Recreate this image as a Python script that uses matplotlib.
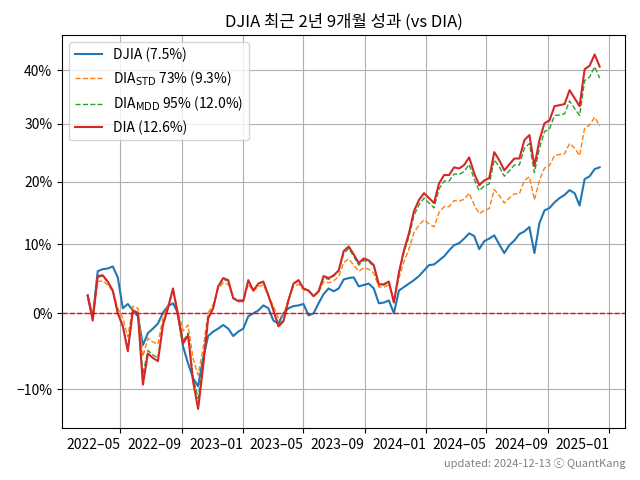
#!/usr/bin/env python3

"""
DJIA vs DIA cumulative performance (log scale)
"""

import numpy as np
import pandas as pd
import matplotlib
matplotlib.use('Agg')
import matplotlib.pyplot as plt
import matplotlib.dates as mdates
from matplotlib.ticker import FixedLocator, FuncFormatter, NullLocator

plt.rcParams['font.family'] = ['Noto Sans CJK KR', 'DejaVu Sans']

# cumulative return (%) sampled about every 10 days
START, END, N = '2022-02-25', '2024-12-13', 103

djia = [2.5, -0.7, 6.0, 6.3, 6.4, 6.7, 5.1, 0.7, 1.3, 0.4,
        -0.4, -4.3, -2.7, -2.1, -1.4, 0.1, 1.0, 1.4, 0.0, -4.5,
        -6.7, -8.6, -9.6, -6.0, -3.1, -2.5, -2.1, -1.6, -2.1, -3.1,
        -2.5, -2.1, -0.4, 0.0, 0.4, 1.1, 0.7, -1.0, -1.4, 0.0,
        0.7, 1.0, 1.1, 1.3, -0.3, 0.0, 1.4, 2.7, 3.5, 3.1,
        3.5, 4.8, 5.0, 5.1, 3.8, 4.0, 4.2, 3.5, 1.4, 1.5,
        1.8, 0.0, 3.2, 3.7, 4.2, 4.7, 5.3, 6.1, 6.9, 7.0,
        7.6, 8.2, 9.1, 9.9, 10.2, 10.9, 11.7, 11.3, 9.3, 10.5,
        10.9, 11.4, 10.0, 8.7, 9.9, 10.6, 11.6, 12.0, 12.7, 8.7,
        13.3, 15.3, 15.7, 16.6, 17.3, 17.8, 18.6, 18.1, 16.1, 20.4,
        20.9, 22.1, 22.4]

dia_std = [2.5, -0.1, 4.5, 4.6, 4.0, 3.1, 0.7, -0.7, -3.2, 1.0,
           0.7, -5.8, -3.4, -3.9, -4.2, -0.6, 1.2, 3.3, 0.3, -2.4,
           -1.6, -6.1, -8.2, -4.7, 0.1, 1.2, 3.5, 4.3, 4.1, 2.2,
           1.9, 1.9, 4.1, 3.1, 3.8, 4.0, 2.5, 1.0, -0.7, -0.2,
           2.0, 3.8, 4.1, 3.3, 3.1, 2.4, 2.9, 4.5, 4.3, 4.6,
           5.2, 7.3, 7.8, 6.9, 6.0, 6.5, 6.3, 5.7, 3.7, 3.7,
           4.0, 1.8, 5.0, 7.4, 9.3, 11.8, 13.0, 13.8, 13.2, 12.7,
           15.0, 15.9, 15.9, 16.9, 16.8, 17.1, 18.1, 16.2, 14.8, 15.3,
           15.6, 18.7, 17.7, 16.5, 17.3, 18.0, 18.0, 20.2, 20.8, 17.0,
           20.2, 22.3, 22.7, 24.4, 24.6, 24.7, 26.5, 25.7, 24.4, 29.2,
           29.8, 31.2, 29.6]

dia_mdd = [2.5, -0.8, 5.1, 5.3, 4.4, 3.2, 0.1, -1.6, -4.8, 0.5,
           0.1, -8.1, -5.0, -5.6, -6.0, -1.4, 0.8, 3.5, -0.3, -3.8,
           -2.7, -8.5, -11.1, -6.6, -0.5, 0.8, 3.7, 4.8, 4.6, 2.1,
           1.7, 1.7, 4.6, 3.2, 4.2, 4.4, 2.5, 0.5, -1.6, -0.9,
           1.9, 4.2, 4.6, 3.5, 3.2, 2.4, 3.1, 5.1, 4.8, 5.3,
           6.0, 8.6, 9.4, 8.2, 6.9, 7.6, 7.4, 6.7, 4.0, 4.0,
           4.4, 1.6, 5.7, 8.8, 11.2, 14.5, 16.2, 17.3, 16.5, 15.7,
           18.8, 20.1, 20.1, 21.3, 21.2, 21.7, 22.9, 20.4, 18.5, 19.3,
           19.6, 23.7, 22.5, 20.9, 21.8, 22.8, 22.8, 25.7, 26.5, 21.5,
           25.7, 28.6, 29.1, 31.5, 31.6, 31.8, 34.2, 32.8, 31.5, 38.0,
           38.7, 40.7, 38.5]

dia = [2.5, -1.0, 5.3, 5.4, 4.5, 3.2, 0.0, -1.8, -5.1, 0.4,
       0.0, -9.4, -5.4, -6.0, -6.4, -1.6, 0.7, 3.5, -0.4, -4.1,
       -3.0, -9.0, -12.4, -7.1, -0.7, 0.7, 3.8, 5.0, 4.7, 2.1,
       1.7, 1.7, 4.7, 3.2, 4.2, 4.5, 2.5, 0.4, -1.8, -1.1,
       1.8, 4.2, 4.7, 3.5, 3.2, 2.4, 3.1, 5.3, 5.0, 5.4,
       6.1, 9.0, 9.7, 8.5, 7.2, 7.9, 7.6, 6.9, 4.1, 4.1,
       4.5, 1.5, 5.8, 9.1, 11.7, 15.2, 17.0, 18.1, 17.3, 16.5,
       19.7, 21.1, 21.1, 22.4, 22.2, 22.8, 24.1, 21.4, 19.4, 20.2,
       20.6, 25.0, 23.6, 21.9, 22.9, 23.9, 23.9, 27.1, 28.0, 22.6,
       27.1, 30.1, 30.6, 33.2, 33.4, 33.6, 36.2, 34.7, 33.2, 40.2,
       40.9, 43.1, 40.7]

labels = ['DJIA (7.5%)',
          'DIA$_{\\rm STD}$ 73% (9.3%)',
          'DIA$_{\\rm MDD}$ 95% (12.0%)',
          'DIA (12.6%)']
yticks = [-10, 0, 10, 20, 30, 40]


def pct(v, pos):
    """ growth factor -> percent label """
    n = round((v - 1) * 100)
    return f'{n:d}%'.replace('-', '\u2212')


if __name__ == '__main__':
    dates = pd.date_range(START, END, periods=N)

    fig, ax = plt.subplots(figsize=(6.4, 4.8), dpi=100)
    fig.subplots_adjust(left=0.097, right=0.977, top=0.927, bottom=0.108)

    ax.plot(dates, 1 + np.array(djia) / 100, color='C0', lw=1.5, label=labels[0])
    ax.plot(dates, 1 + np.array(dia_std) / 100, color='C1', lw=1, ls='--', label=labels[1])
    ax.plot(dates, 1 + np.array(dia_mdd) / 100, color='C2', lw=1, ls='--', label=labels[2])
    ax.plot(dates, 1 + np.array(dia) / 100, color='C3', lw=1.5, label=labels[3])
    ax.axhline(1.0, color='red', ls='--', lw=1)

    ax.set_yscale('log')
    ax.set_ylim(0.853, 1.47)
    ax.yaxis.set_major_locator(FixedLocator([1 + t / 100 for t in yticks]))
    ax.yaxis.set_minor_locator(NullLocator())
    ax.yaxis.set_major_formatter(FuncFormatter(pct))

    ax.xaxis.set_major_locator(mdates.MonthLocator(bymonth=[1, 5, 9]))
    ax.xaxis.set_major_formatter(mdates.DateFormatter('%Y\u2013%m'))
    for lab in ax.get_xticklabels():
        lab.set_ha('right')

    ax.grid(True)
    ax.set_title('DJIA 최근 2년 9개월 성과 (vs DIA)')
    ax.legend(loc='upper left')

    fig.text(0.977, 0.022, 'updated: 2024-12-13 ⓒ QuantKang', ha='right', va='bottom',
             fontsize=8, color='gray')

    fig.savefig('out.png')
